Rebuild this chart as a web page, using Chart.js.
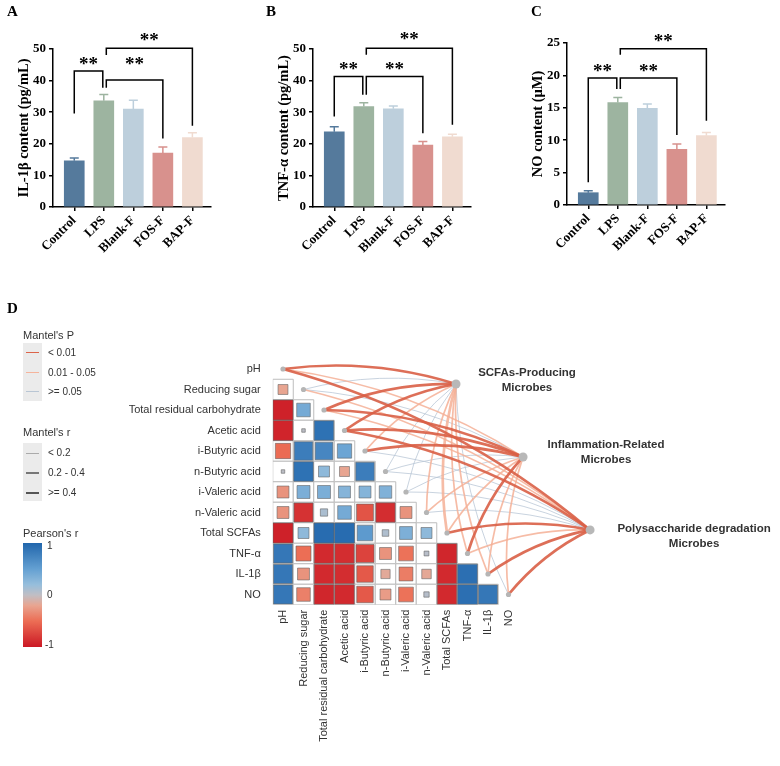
<!DOCTYPE html>
<html>
<head>
<meta charset="utf-8">
<script src="https://cdn.jsdelivr.net/npm/chart.js@4.4.1/dist/chart.umd.min.js"></script>
<style>
body { margin: 0; background: #fff; }
#wrap { position: relative; width: 780px; height: 766px; overflow: hidden; font-family: 'Liberation Sans', Arial, sans-serif; color: #333; }
canvas { position: absolute; }
.letter { position: absolute; font: bold 15px 'Liberation Serif', serif; color: #000; }
.lgt { position: absolute; font-size: 11px; line-height: 12px; color: #333; white-space: nowrap; }
.lg { position: absolute; font-size: 10px; line-height: 12px; color: #333; white-space: nowrap; }
.box { position: absolute; background: #ebebeb; }
.ln { position: absolute; }
</style>
</head>
<body>
<div id="wrap">
  <canvas id="chartA" width="250" height="262" style="left:0;top:0"></canvas>
  <canvas id="chartB" width="250" height="262" style="left:260px;top:0"></canvas>
  <canvas id="chartC" width="250" height="262" style="left:514px;top:0"></canvas>
  <canvas id="chartD" width="780" height="466" style="left:0;top:300px"></canvas>

  <div class="letter" style="left:7px;top:3px">A</div>
  <div class="letter" style="left:266px;top:3px">B</div>
  <div class="letter" style="left:531px;top:3px">C</div>
  <div class="letter" style="left:7px;top:300px">D</div>

  <div class="lgt" style="left:23px;top:329px">Mantel's P</div>
  <div class="box" style="left:23px;top:343px;width:19px;height:58px"></div>
  <div class="ln" style="left:26px;top:352px;width:13px;height:1.3px;background:#dc6449"></div>
  <div class="ln" style="left:26px;top:372px;width:13px;height:1.3px;background:#f5b49c"></div>
  <div class="ln" style="left:26px;top:391px;width:13px;height:1.3px;background:#b9c6d4"></div>
  <div class="lg" style="left:48px;top:347px">&lt; 0.01</div>
  <div class="lg" style="left:48px;top:367px">0.01 - 0.05</div>
  <div class="lg" style="left:48px;top:386px">&gt;= 0.05</div>

  <div class="lgt" style="left:23px;top:426px">Mantel's r</div>
  <div class="box" style="left:23px;top:443px;width:19px;height:58px"></div>
  <div class="ln" style="left:26px;top:452.5px;width:13px;height:1px;background:#aaa"></div>
  <div class="ln" style="left:26px;top:472px;width:13px;height:1.8px;background:#777"></div>
  <div class="ln" style="left:26px;top:491.5px;width:13px;height:2.8px;background:#555"></div>
  <div class="lg" style="left:48px;top:447px">&lt; 0.2</div>
  <div class="lg" style="left:48px;top:467px">0.2 - 0.4</div>
  <div class="lg" style="left:48px;top:487px">&gt;= 0.4</div>

  <div class="lgt" style="left:23px;top:527px">Pearson's r</div>
  <div class="ln" style="left:23px;top:543px;width:19px;height:104px;background:linear-gradient(to bottom, rgb(33,102,172) 0%, rgb(100,160,210) 25%, rgb(150,190,220) 40%, rgb(192,190,196) 50%, rgb(232,165,145) 60%, rgb(236,110,85) 75%, rgb(203,24,36) 100%)"></div>
  <div class="lg" style="left:47px;top:540px">1</div>
  <div class="lg" style="left:47px;top:589px">0</div>
  <div class="lg" style="left:45px;top:639px">-1</div>
</div>
<script>
// Panels A-C
const groups = ['Control', 'LPS', 'Blank-F', 'FOS-F', 'BAP-F'];
const barColors = ['#557a9c', '#9db4a0', '#bdcfdc', '#d8918d', '#f0dbd0'];

const il1b = [14.6, 33.6, 31.0, 17.1, 22.0];
const il1bErr = [0.9, 2.0, 2.8, 1.9, 1.5];
const tnf = [23.8, 31.8, 31.1, 19.6, 22.2];
const tnfErr = [1.6, 1.2, 0.9, 1.1, 0.8];
const no = [1.9, 15.8, 14.9, 8.6, 10.7];
const noErr = [0.3, 0.8, 0.7, 0.8, 0.5];

// significance brackets: a/b = group index, top = bracket level, footA/footB = leg ends, starY = label level
const sigA = [
    { a: 0, b: 1, top: 43.0, footA: 29.6, footB: 37.7, starY: 46.2, da: 0, db: -1 },
    { a: 1, b: 3, top: 40.2, footA: 37.7, footB: 21.7, starY: 46.2, da: 2.5, db: 0 },
    { a: 1, b: 4, top: 50.2, footA: 48.1, footB: 25.7, starY: 53.9, da: 2.5, db: 0 }
];
const sigB = [
    { a: 0, b: 1, top: 41.3, footA: 28.6, footB: 35.5, starY: 44.7, da: 0, db: -1 },
    { a: 1, b: 3, top: 41.3, footA: 35.5, footB: 23.3, starY: 44.7, da: 2.5, db: 0 },
    { a: 1, b: 4, top: 50.2, footA: 48.2, footB: 26.0, starY: 54.0, da: 2.5, db: 0 }
];
const sigC = [
    { a: 0, b: 1, top: 19.6, footA: 3.5, footB: 17.9, starY: 21.1, da: 0, db: -1 },
    { a: 1, b: 3, top: 19.6, footA: 17.9, footB: 10.8, starY: 21.1, da: 2.5, db: 0 },
    { a: 1, b: 4, top: 24.1, footA: 23.2, footB: 13.0, starY: 25.8, da: 2.5, db: 0 }
];

// Panel D
const vars = ['pH', 'Reducing sugar', 'Total residual carbohydrate', 'Acetic acid', 'i-Butyric acid',
    'n-Butyric acid', 'i-Valeric acid', 'n-Valeric acid', 'Total SCFAs', 'TNF-α', 'IL-1β', 'NO'];
// lower triangle of Pearson's r, row i has columns 0..i-1
const corr = [
    [],
    [-0.2],
    [-0.95, 0.4],
    [-0.93, 0.02, 0.9],
    [-0.52, 0.8, 0.72, 0.45],
    [0.02, 0.9, 0.25, -0.2, 0.8],
    [-0.3, 0.36, 0.36, 0.3, 0.3, 0.33],
    [-0.3, -0.85, 0.1, 0.4, -0.65, -0.88, -0.3],
    [-0.95, 0.25, 0.95, 0.95, 0.55, 0.08, 0.35, 0.25],
    [0.85, -0.5, -0.9, -0.88, -0.75, -0.3, -0.48, 0.04, -0.92],
    [0.85, -0.3, -0.9, -0.88, -0.62, -0.17, -0.42, -0.18, -0.9, 0.92],
    [0.85, -0.4, -0.92, -0.9, -0.62, -0.25, -0.48, 0.05, -0.9, 0.92, 0.85]
];
const targets = ['SCFAs-Producing\nMicrobes', 'Inflammation-Related\nMicrobes', 'Polysaccharide degradation\nMicrobes'];
const mantelP_scfa = [0.001, 0.3, 0.002, 0.004, 0.03, 0.2, 0.15, 0.03, 0.02, 0.03, 0.04, 0.3];
const mantelR_scfa = [0.55, 0.12, 0.5, 0.48, 0.3, 0.1, 0.12, 0.25, 0.42, 0.3, 0.28, 0.15];
const mantelP_infl = [0.03, 0.25, 0.003, 0.002, 0.004, 0.3, 0.2, 0.03, 0.02, 0.003, 0.04, 0.03];
const mantelR_infl = [0.3, 0.1, 0.52, 0.5, 0.48, 0.1, 0.12, 0.28, 0.3, 0.45, 0.25, 0.3];
const mantelP_poly = [0.002, 0.02, 0.03, 0.004, 0.2, 0.15, 0.25, 0.3, 0.003, 0.03, 0.004, 0.005];
const mantelR_poly = [0.5, 0.35, 0.3, 0.45, 0.12, 0.1, 0.1, 0.12, 0.5, 0.3, 0.48, 0.45];

// where the three microbe nodes sit, in cell units of the matrix
const targetPos = [[8.44, 0.73], [11.71, 4.29], [14.98, 7.85]];
const targetLabelOffset = [[71, -11], [83, -12], [104, -1]];

const serif = 'Liberation Serif';

function makeBar(id, values, errs, yMax, yStep, yTitle, sig, padTop, xHeight) {
    const errPlugin = {
        id: 'err',
        afterDatasetsDraw(chart) {
            const { ctx, scales: { x, y } } = chart;
            ctx.save();
            ctx.lineWidth = 1.5;
            values.forEach((v, i) => {
                const px = x.getPixelForValue(i);
                const y0 = y.getPixelForValue(v);
                const y1 = y.getPixelForValue(v + errs[i]);
                ctx.strokeStyle = barColors[i];
                ctx.beginPath();
                ctx.moveTo(px, y0);
                ctx.lineTo(px, y1);
                ctx.moveTo(px - 4.5, y1);
                ctx.lineTo(px + 4.5, y1);
                ctx.stroke();
            });
            ctx.restore();
        }
    };
    const sigPlugin = {
        id: 'sig',
        afterDraw(chart) {
            const { ctx, scales: { x, y } } = chart;
            ctx.save();
            ctx.strokeStyle = '#000';
            ctx.lineWidth = 1.5;
            ctx.fillStyle = '#000';
            ctx.font = 'bold 19px ' + serif;
            ctx.textAlign = 'center';
            ctx.textBaseline = 'middle';
            sig.forEach(s => {
                const xa = x.getPixelForValue(s.a) + s.da;
                const xb = x.getPixelForValue(s.b) + s.db;
                const yt = y.getPixelForValue(s.top);
                ctx.beginPath();
                ctx.moveTo(xa, y.getPixelForValue(s.footA));
                ctx.lineTo(xa, yt);
                ctx.lineTo(xb, yt);
                ctx.lineTo(xb, y.getPixelForValue(s.footB));
                ctx.stroke();
                ctx.fillText('**', (xa + xb) / 2, y.getPixelForValue(s.starY) + 4);
            });
            ctx.restore();
        }
    };
    const axisLine = { display: true, color: '#000', width: 1.5 };
    const tickGrid = { display: true, offset: false, drawOnChartArea: false, drawTicks: true, tickLength: 4, color: '#000', lineWidth: 1.5 };
    const tickFont = { family: serif, weight: 'bold', size: 13 };
    return new Chart(document.getElementById(id), {
        type: 'bar',
        data: {
            datasets: [{
                data: values.map((v, i) => ({ x: i, y: v })),
                backgroundColor: barColors,
                barThickness: 20,
                borderWidth: 0
            }]
        },
        options: {
            responsive: false,
            animation: false,
            events: [],
            layout: { padding: { left: 12, right: 39, top: padTop, bottom: 0 } },
            plugins: { legend: { display: false }, tooltip: { enabled: false } },
            scales: {
                x: {
                    type: 'linear',
                    offset: false,
                    min: -0.72,
                    max: 4.63,
                    bounds: 'data',
                    afterBuildTicks: s => { s.ticks = groups.map((g, i) => ({ value: i })); },
                    afterFit: s => { s.height = xHeight; },
                    grid: tickGrid,
                    border: axisLine,
                    ticks: {
                        autoSkip: false, maxRotation: 45, minRotation: 45, padding: 2,
                        color: '#000', font: tickFont,
                        callback: v => groups[v]
                    }
                },
                y: {
                    min: 0,
                    max: yMax,
                    afterFit: s => { s.width = 41; },
                    grid: tickGrid,
                    border: axisLine,
                    ticks: { stepSize: yStep, padding: 3, color: '#000', font: tickFont },
                    title: {
                        display: true, text: yTitle, color: '#000',
                        font: { family: serif, weight: 'bold', size: 14.5 },
                        padding: { top: 4, bottom: 0 }
                    }
                }
            }
        },
        plugins: [errPlugin, sigPlugin]
    });
}

makeBar('chartA', il1b, il1bErr, 50, 10, 'IL-1β content (pg/mL)', sigA, 49, 55);
makeBar('chartB', tnf, tnfErr, 50, 10, 'TNF-α content (pg/mL)', sigB, 49, 55);
makeBar('chartC', no, noErr, 25, 5, 'NO content (μM)', sigC, 43, 57);

// ---- Panel D ----
const stops = [
    [-1, [203, 24, 36]],
    [-0.5, [236, 110, 85]],
    [-0.2, [232, 165, 145]],
    [0, [192, 190, 196]],
    [0.2, [150, 190, 220]],
    [0.5, [100, 160, 210]],
    [1, [33, 102, 172]]
];
function pearsonColor(v) {
    for (let i = 0; i < stops.length - 1; i++) {
        const [v0, c0] = stops[i];
        const [v1, c1] = stops[i + 1];
        if (v <= v1) {
            const t = (v - v0) / (v1 - v0);
            const c = c0.map((a, k) => Math.round(a + (c1[k] - a) * t));
            return `rgb(${c[0]},${c[1]},${c[2]})`;
        }
    }
    return 'rgb(33,102,172)';
}

const gridCells = [];
const corrCells = [];
corr.forEach((row, r) => row.forEach((v, c) => {
    gridCells.push({ x: c, y: r });
    corrCells.push({ x: c, y: r, v: v });
}));
const diagNodes = vars.map((v, i) => ({ x: i, y: i }));
const targetNodes = targetPos.map(p => ({ x: p[0], y: p[1] }));

const mantelP = [mantelP_scfa, mantelP_infl, mantelP_poly];
const mantelR = [mantelR_scfa, mantelR_infl, mantelR_poly];

function cellPx(chart) {
    const x = chart.scales.x;
    return x.getPixelForValue(1) - x.getPixelForValue(0);
}

const linksPlugin = {
    id: 'links',
    beforeDatasetDraw(chart, args) {
        if (args.index !== 2) return;
        const { ctx, scales: { x, y } } = chart;
        const links = [];
        targetPos.forEach((t, ti) => vars.forEach((v, vi) => {
            links.push({ t, vi, p: mantelP[ti][vi], r: mantelR[ti][vi] });
        }));
        links.sort((a, b) => b.p - a.p);
        ctx.save();
        ctx.lineCap = 'round';
        links.forEach(l => {
            const x0 = x.getPixelForValue(l.vi), y0 = y.getPixelForValue(l.vi);
            const x1 = x.getPixelForValue(l.t[0]), y1 = y.getPixelForValue(l.t[1]);
            const dx = x1 - x0, dy = y1 - y0;
            const k = 0.11;
            const cx = (x0 + x1) / 2 + k * dy;
            const cy = (y0 + y1) / 2 - k * dx;
            ctx.strokeStyle = l.p < 0.01 ? 'rgba(217,95,70,0.9)' : (l.p < 0.05 ? 'rgba(245,176,150,0.85)' : 'rgba(178,194,210,0.8)');
            ctx.lineWidth = l.r < 0.2 ? 0.9 : (l.r < 0.4 ? 1.7 : 2.7);
            ctx.beginPath();
            ctx.moveTo(x0, y0);
            ctx.quadraticCurveTo(cx, cy, x1, y1);
            ctx.stroke();
        });
        ctx.restore();
    }
};

const labelsPlugin = {
    id: 'dlabels',
    afterDraw(chart) {
        const { ctx, scales: { x, y } } = chart;
        ctx.save();
        ctx.fillStyle = '#333';
        ctx.font = '11px "Liberation Sans", Arial';
        ctx.textAlign = 'right';
        ctx.textBaseline = 'middle';
        const left = x.getPixelForValue(-0.5);
        vars.forEach((v, i) => ctx.fillText(v, left - 12, y.getPixelForValue(i)));
        const bottom = y.getPixelForValue(11.5);
        vars.forEach((v, i) => {
            ctx.save();
            ctx.translate(x.getPixelForValue(i), bottom + 5);
            ctx.rotate(-Math.PI / 2);
            ctx.fillText(v, 0, 0);
            ctx.restore();
        });
        ctx.font = 'bold 11.5px "Liberation Sans", Arial';
        ctx.textAlign = 'center';
        targets.forEach((t, i) => {
            const px = x.getPixelForValue(targetPos[i][0]) + targetLabelOffset[i][0];
            const py = y.getPixelForValue(targetPos[i][1]) + targetLabelOffset[i][1];
            t.split('\n').forEach((line, j) => ctx.fillText(line, px, py + j * 15));
        });
        ctx.restore();
    }
};

// datasets with a lower "order" are painted on top
new Chart(document.getElementById('chartD'), {
    type: 'scatter',
    data: {
        datasets: [
            {
                order: 4,
                data: gridCells,
                pointStyle: 'rect',
                pointRadius: c => cellPx(c.chart) / Math.SQRT2,
                backgroundColor: '#fff',
                borderColor: '#bdbdbd',
                borderWidth: 1
            },
            {
                order: 3,
                data: corrCells,
                pointStyle: 'rect',
                pointRadius: c => c.raw ? cellPx(c.chart) * Math.min(1, Math.pow(Math.abs(c.raw.v), 0.45)) / Math.SQRT2 : 0,
                backgroundColor: c => c.raw ? pearsonColor(c.raw.v) : '#fff',
                borderColor: 'rgba(100,100,100,0.65)',
                borderWidth: 0.9
            },
            {
                order: 2,
                data: diagNodes,
                pointRadius: 2.6,
                backgroundColor: '#b5b5b5',
                borderWidth: 0
            },
            {
                order: 1,
                data: targetNodes,
                pointRadius: 4.5,
                backgroundColor: '#b8b8b8',
                borderWidth: 0
            }
        ]
    },
    options: {
        responsive: false,
        animation: false,
        events: [],
        layout: { padding: { left: 272.75, right: 179.25, top: 58.75, bottom: 161.25 } },
        plugins: { legend: { display: false }, tooltip: { enabled: false } },
        scales: {
            x: { type: 'linear', min: -0.5, max: 15.5, display: false },
            y: { type: 'linear', min: -0.5, max: 11.5, reverse: true, display: false }
        }
    },
    plugins: [linksPlugin, labelsPlugin]
});
</script>
</body>
</html>
